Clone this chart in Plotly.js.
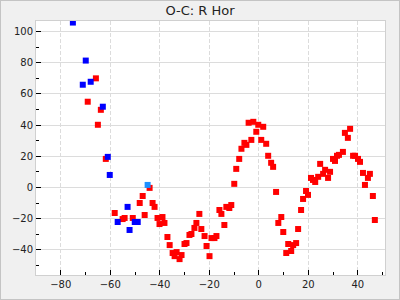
<!DOCTYPE html>
<html>
<head>
<meta charset="utf-8">
<script src="https://cdn.plot.ly/plotly-3.0.1.min.js"></script>
<style>
html,body{margin:0;padding:0;background:#f0f0f0;}
#wrap{position:relative;width:400px;height:300px;}
#chart{width:400px;height:300px;}
#frame{position:absolute;left:0;top:0;width:400px;height:300px;box-sizing:border-box;border:1px solid #c4c4c4;pointer-events:none;}
</style>
</head>
<body>
<div id="wrap"><div id="chart"></div><div id="frame"></div></div>
<script>
// Blue series (phase, O-C)
const blueX = [-75.1, -71.1, -69.9, -67.9, -63.0, -61.0, -60.2, -57.0, -53.0, -52.2, -50.1, -48.9];
const blueY = [105.8, 65.9, 81.4, 67.8, 51.8, 19.6, 8.0, -22.2, -12.5, -27.3, -22.2, -22.2];

// Light blue single point
const lightX = [-44.9];
const lightY = [1.6];

// Red series
const redX = [-69.1, -65.8, -65.0, -63.8, -61.8, -58.2, -55.0, -54.2, -50.9, -48.1,
  -46.9, -46.1, -44.1, -42.9, -42.1, -40.9, -40.1, -38.9, -38.1, -36.9,
  -36.0, -34.8, -34.0, -33.2, -32.0, -31.2, -30.0, -29.2, -28.0, -27.2,
  -26.0, -25.2, -24.0, -23.2, -21.9, -21.1, -19.9, -19.1, -17.9, -17.1,
  -15.9, -15.1, -13.9, -13.1, -11.9, -11.1, -9.9, -9.1, -7.9, -7.0,
  -5.8, -5.0, -4.1, -3.0, -2.2, -1.0, -0.2, 1.0, 1.8, 3.0,
  3.8, 5.0, 5.8, 7.0, 7.9, 9.1, 9.9, 11.1, 11.9, 13.1,
  13.9, 15.1, 15.9, 17.1, 17.9, 19.1, 19.9, 21.1, 21.9, 22.8,
  24.0, 24.8, 26.0, 26.8, 28.0, 28.8, 30.0, 30.8, 31.6, 32.4,
  34.0, 34.8, 36.0, 36.9, 38.1, 38.9, 40.1, 40.9, 42.1, 42.9,
  44.1, 44.9, 46.1, 46.9];
const redY = [55.0, 70.0, 40.2, 49.8, 18.3, -16.4, -20.3, -19.6, -19.6, -10.0,
  -5.5, -17.7, -0.3, -10.0, -12.5, -19.6, -23.5, -19.0, -22.8, -31.8,
  -37.0, -42.1, -44.1, -41.5, -46.0, -43.4, -36.3, -35.7, -30.5, -29.9,
  -26.0, -22.8, -17.0, -26.7, -31.2, -37.6, -44.1, -32.5, -32.5, -31.2,
  -14.5, -17.0, -24.1, -12.5, -13.2, -11.3, 2.3, 11.9, 18.3, 24.8,
  28.6, 27.3, 41.5, 30.5, 42.1, 35.7, 40.2, 30.5, 38.9, 28.0,
  20.3, 15.8, 13.2, -2.9, -22.8, -19.0, -28.6, -42.1, -36.3, -40.8,
  -37.0, -35.7, -26.7, -14.5, -7.4, -2.3, -4.8, 6.1, 4.8, 3.5,
  6.8, 15.1, 8.7, 11.3, 6.1, 10.0, 18.3, 17.0, 20.3, 20.9,
  22.8, 35.0, 31.8, 37.6, 20.3, 20.3, 18.3, 16.4, 9.3, 1.6,
  6.1, 8.7, -5.5, -20.9];

const titleText = 'O-C: R Hor';
const font = 'DejaVu Sans, sans-serif';
const msize = 6;

const traces = [
  {x: redX, y: redY, type: 'scatter', mode: 'markers', marker: {symbol: 'square', size: msize, color: '#ff0000'}},
  {x: blueX, y: blueY, type: 'scatter', mode: 'markers', marker: {symbol: 'square', size: msize, color: '#0000ff'}},
  {x: lightX, y: lightY, type: 'scatter', mode: 'markers', marker: {symbol: 'square', size: msize, color: '#1e90ff'}}
];

const axisCommon = {
  showline: true, mirror: true, linecolor: '#d0d0d0', linewidth: 1,
  ticks: 'inside', ticklen: 5, tickcolor: '#000', tickwidth: 1,
  zeroline: false, gridcolor: '#dcdcdc', gridwidth: 1,
  tickfont: {family: font, size: 10, color: '#222'}
};

const layout = {
  width: 400, height: 300,
  margin: {l: 36, r: 15, t: 21, b: 25},
  paper_bgcolor: '#f0f0f0', plot_bgcolor: '#ffffff',
  showlegend: false,
  title: {text: titleText, font: {family: font, size: 13, color: '#222'}, x: 0.5, xanchor: 'center', y: 0.965, yanchor: 'middle'},
  xaxis: Object.assign({}, axisCommon, {
    range: [-90, 51], tick0: 0, dtick: 20, griddash: '4px,2px',
    minor: {dtick: 10, tick0: 0, ticks: 'inside', ticklen: 3, tickcolor: '#000', showgrid: false}
  }),
  yaxis: Object.assign({}, axisCommon, {
    range: [-56.2, 106.8], tick0: 0, dtick: 20,
    minor: {dtick: 10, tick0: 0, ticks: 'inside', ticklen: 3, tickcolor: '#000', showgrid: false}
  }),
  hovermode: false
};

Plotly.newPlot('chart', traces, layout, {staticPlot: true, displayModeBar: false});
</script>
</body>
</html>
